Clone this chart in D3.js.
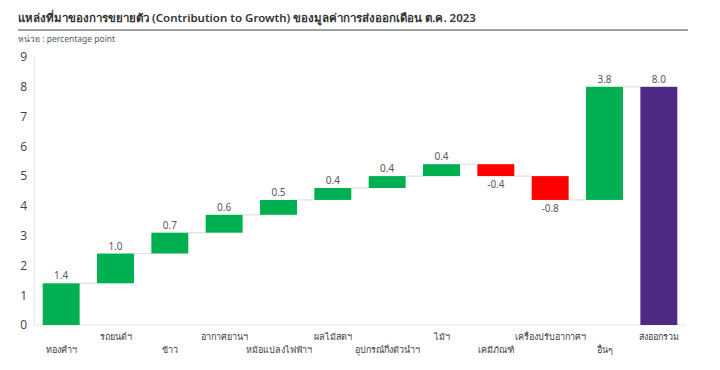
<!DOCTYPE html>
<html>
<head>
<meta charset="utf-8">
<script src="https://cdn.jsdelivr.net/npm/d3@7"></script>
<style>
  body { margin: 0; background: #fff; }
  text { font-family: "Noto Sans", "Open Sans", sans-serif; }
</style>
</head>
<body>
<svg id="chart" width="720" height="370"></svg>
<script>
const categories = [
  "ทองคำฯ", "รถยนต์ฯ", "ข้าว", "อากาศยานฯ", "หม้อแปลงไฟฟ้าฯ", "ผลไม้สดฯ",
  "อุปกรณ์กึ่งตัวนำฯ", "ไม้ฯ", "เคมีภัณฑ์", "เครื่องปรับอากาศฯ", "อื่นๆ", "ส่งออกรวม"
]
const changes = [1.4, 1.0, 0.7, 0.6, 0.5, 0.4, 0.4, 0.4, -0.4, -0.8, 3.8]
const totalValue = 8.0
const yTicks = [0, 1, 2, 3, 4, 5, 6, 7, 8, 9]

// build waterfall steps
let running = 0
const steps = changes.map((v, i) => {
  const start = running
  running += v
  return { cat: categories[i], start, end: running, value: v, total: false }
})
steps.push({ cat: categories[11], start: 0, end: totalValue, value: totalValue, total: true })

const svg = d3.select("#chart")

const x = d3.scaleBand()
  .domain(categories)
  .range([34, 686])
  .paddingInner(0.32)
  .paddingOuter(0.16)

const y = d3.scaleLinear()
  .domain([0, 9])
  .range([325, 57])

// title
svg.append("text")
  .attr("x", 18).attr("y", 22)
  .attr("font-size", 11.5).attr("font-weight", 600)
  .attr("fill", "#333")
  .text("แหล่งที่มาของการขยายตัว (Contribution to Growth) ของมูลค่าการส่งออกเดือน ต.ค. 2023")

svg.append("line")
  .attr("x1", 18).attr("x2", 688)
  .attr("y1", 30).attr("y2", 30)
  .attr("stroke", "#7f7f7f").attr("stroke-width", 1.5)

svg.append("text")
  .attr("x", 18).attr("y", 42)
  .attr("font-size", 8.5)
  .attr("fill", "#595959")
  .text("หน่วย : percentage point")

// y axis
const yAxis = svg.append("g")
  .attr("transform", "translate(34,0)")
  .call(d3.axisLeft(y).tickValues(yTicks).tickSize(0).tickPadding(7))
yAxis.select(".domain").attr("stroke", "#e6e6e6")
yAxis.selectAll("text")
  .attr("font-size", 12).attr("fill", "#404040")
  .style("font-family", "'Open Sans', sans-serif")

// baseline
svg.append("line")
  .attr("x1", 34).attr("x2", 686)
  .attr("y1", y(0)).attr("y2", y(0))
  .attr("stroke", "#e6e6e6")

// connectors
const conn = steps.slice(0, -1).map((d, i) => ({
  x1: x(d.cat) + x.bandwidth(),
  x2: x(steps[i + 1].cat),
  yv: d.end
}))
svg.append("g")
  .selectAll("line")
  .data(conn)
  .join("line")
  .attr("x1", d => d.x1)
  .attr("x2", d => d.x2)
  .attr("y1", d => y(d.yv))
  .attr("y2", d => y(d.yv))
  .attr("stroke", "#e0e0e0")
  .attr("stroke-width", 1.2)

const color = d => d.total ? "#4e2a84" : (d.value < 0 ? "#ff0000" : "#00b050")

svg.append("g")
  .selectAll("rect")
  .data(steps)
  .join("rect")
  .attr("x", d => x(d.cat))
  .attr("width", x.bandwidth())
  .attr("y", d => y(Math.max(d.start, d.end)))
  .attr("height", d => Math.abs(y(d.start) - y(d.end)))
  .attr("fill", color)

// value labels
svg.append("g")
  .selectAll("text")
  .data(steps)
  .join("text")
  .attr("x", d => x(d.cat) + x.bandwidth() / 2)
  .attr("y", d => d.value < 0 ? y(Math.min(d.start, d.end)) + 12 : y(Math.max(d.start, d.end)) - 4)
  .attr("text-anchor", "middle")
  .attr("font-size", 10)
  .attr("fill", "#595959")
  .text(d => d.value.toFixed(1))

// category labels, staggered
svg.append("g")
  .selectAll("text")
  .data(categories)
  .join("text")
  .attr("x", d => x(d) + x.bandwidth() / 2)
  .attr("y", (d, i) => i % 2 === 0 ? 353 : 340)
  .attr("text-anchor", "middle")
  .attr("font-size", 9)
  .attr("fill", "#404040")
  .text(d => d)
</script>
</body>
</html>
